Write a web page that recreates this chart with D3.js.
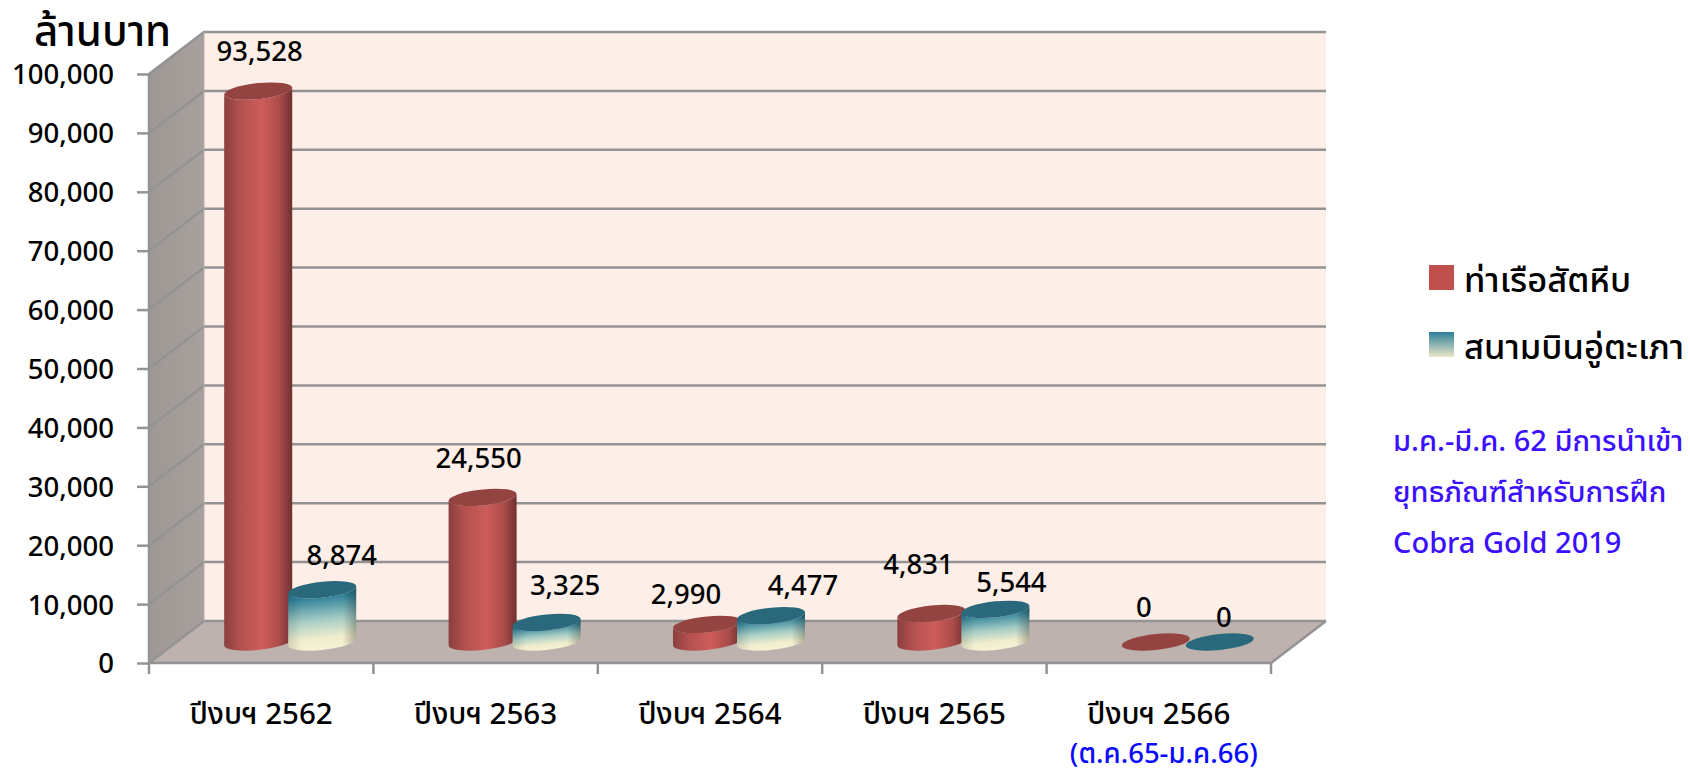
<!DOCTYPE html>
<html>
<head>
  <meta charset="utf-8">
  <style>
    html, body { margin: 0; background: #fff; }
    svg { display: block; }
    text { font-family: "Noto Sans", "Noto Sans Thai", "DejaVu Sans", sans-serif; font-weight: 500; fill: #000; }
  </style>
</head>
<body>
  <svg id="viz" width="1690" height="770"></svg>
  <script src="https://d3js.org/d3.v7.min.js"></script>
  <script>
    var categories = ["ปีงบฯ 2562", "ปีงบฯ 2563", "ปีงบฯ 2564", "ปีงบฯ 2565", "ปีงบฯ 2566"];
    var seriesNames = ["ท่าเรือสัตหีบ", "สนามบินอู่ตะเภา"];
    var portValues = [93528, 24550, 2990, 4831, 0];
    var airportValues = [8874, 3325, 4477, 5544, 0];
    var yTicks = [0, 10000, 20000, 30000, 40000, 50000, 60000, 70000, 80000, 90000, 100000];
    var noteLines = ["ม.ค.-มี.ค. 62 มีการนำเข้า", "ยุทธภัณฑ์สำหรับการฝึก", "Cobra Gold 2019"];

    // hand placed label nudges from the top of each bar, same as the original chart
    var portLabelShift = [[1.5, -30], [-4, -29], [-21, -20], [-13, -40], [-12, -25]];
    var airportLabelShift = [[19.5, -25], [18.5, -27], [32, -21], [16, -17], [4, -15]];

    var plotLeft = 149, plotRight = 1271, plotBottom = 663, plotTop = 74;
    var depthX = 55, depthY = -42;

    var svg = d3.select("#viz");
    var defs = svg.append("defs");

    function gradient(id, vertical, stops) {
      var g = defs.append("linearGradient").attr("id", id)
        .attr("x1", 0).attr("y1", 0)
        .attr("x2", vertical ? 0 : 1).attr("y2", vertical ? 1 : 0);
      stops.forEach(function(s) {
        g.append("stop").attr("offset", s[0]).attr("stop-color", s[1]).attr("stop-opacity", s[2] === undefined ? 1 : s[2]);
      });
    }
    gradient("redBody", false, [[0, "#8a3f3d"], [0.25, "#b55250"], [0.55, "#ce5c5a"], [0.82, "#a94c4a"], [1, "#6f302f"]]);
    gradient("blueBody", true, [[0, "#26788f"], [0.12, "#2f8199"], [0.5, "#a6cdc5"], [0.8, "#f0edcd"], [1, "#f6f3d6"]]);
    gradient("blueSide", false, [[0, "#000", 0.12], [0.2, "#000", 0], [0.8, "#000", 0], [1, "#000", 0.28]]);
    gradient("wallFill", false, [[0, "#9f9793"], [1, "#a8a09c"]]);
    gradient("legendBlue", true, [[0, "#2b8098"], [1, "#ebe6c8"]]);

    var x = d3.scaleBand().domain(categories).range([plotLeft, plotRight]);
    var inner = d3.scaleBand().domain([0, 1]).range([-64, 64]);
    var y = d3.scaleLinear().domain([0, 100000]).range([plotBottom, plotTop]);

    var gridColor = "#939393";

    // walls and floor
    svg.append("path")
      .attr("d", d3.line()([[plotLeft + depthX, y(100000) + depthY], [plotRight + depthX, y(100000) + depthY], [plotRight + depthX, plotBottom + depthY], [plotLeft + depthX, plotBottom + depthY]]))
      .attr("fill", "#fdeee7");
    svg.append("path")
      .attr("d", d3.line()([[plotLeft, y(100000)], [plotLeft + depthX, y(100000) + depthY], [plotLeft + depthX, plotBottom + depthY], [plotLeft, plotBottom]]))
      .attr("fill", "url(#wallFill)");
    svg.append("path")
      .attr("d", d3.line()([[plotLeft, plotBottom], [plotLeft + depthX, plotBottom + depthY], [plotRight + depthX, plotBottom + depthY], [plotRight, plotBottom]]))
      .attr("fill", "#bdb2ae");

    // gridlines on back wall and side wall
    var grid = svg.append("g").attr("fill", "none").attr("stroke", gridColor).attr("stroke-width", 2.5);
    yTicks.forEach(function(t) {
      grid.append("path")
        .attr("d", d3.line()([[plotLeft, y(t)], [plotLeft + depthX, y(t) + depthY], [plotRight + depthX, y(t) + depthY]]));
    });
    grid.append("path").attr("d", d3.line()([[plotLeft, y(100000)], [plotLeft, plotBottom], [plotRight, plotBottom], [plotRight + depthX, plotBottom + depthY]]));
    grid.append("path").attr("d", d3.line()([[plotLeft + depthX, y(100000) + depthY], [plotLeft + depthX, plotBottom + depthY]])).attr("stroke-width", 1).attr("stroke", "#b5aeaa");

    // axes
    var yAxis = svg.append("g")
      .attr("transform", "translate(" + plotLeft + ",0)")
      .call(d3.axisLeft(y).tickValues(yTicks).tickSize(12).tickPadding(23).tickFormat(d3.format(",")));
    var xAxis = svg.append("g")
      .attr("transform", "translate(0," + plotBottom + ")")
      .call(d3.axisBottom(x).tickSize(0).tickPadding(40));
    yAxis.select(".domain").remove();
    xAxis.select(".domain").remove();
    yAxis.selectAll("text").style("font-family", null).attr("font-size", 27.5);
    xAxis.selectAll("text").style("font-family", null).attr("font-size", 29.5);
    yAxis.selectAll("line").attr("stroke", gridColor).attr("stroke-width", 2.5);
    yAxis.selectAll("text").attr("dy", "0.36em");

    var catEdges = categories.map(function(c) { return x(c); }).concat([plotRight]);
    svg.append("g").selectAll("line").data(catEdges).enter().append("line")
      .attr("x1", function(d) { return d; }).attr("x2", function(d) { return d; })
      .attr("y1", plotBottom).attr("y2", plotBottom + 11)
      .attr("stroke", gridColor).attr("stroke-width", 2.5);

    // cylinders
    var rx = 34, ry = 8, skew = -0.1;
    var barH = d3.scaleLinear().domain([0, 100000]).range([0, plotBottom - plotTop]);

    function barX(cat, s) {
      return x(cat) + x.bandwidth() / 2 + depthX / 2 + 1.5 + inner(s) + inner.bandwidth() / 2;
    }

    function drawBar(cat, s, value) {
      var h = barH(value);
      var g = svg.append("g")
        .attr("transform", "matrix(1," + skew + ",0,1," + barX(cat, s) + "," + (plotBottom + depthY / 2) + ")");
      var body = "M" + (-rx) + "," + (-h) + "L" + (-rx) + ",0A" + rx + "," + ry + " 0 0 0 " + rx + ",0L" + rx + "," + (-h) +
        "A" + rx + "," + ry + " 0 0 1 " + (-rx) + "," + (-h) + "Z";
      if (h > 0) {
        g.append("path").attr("d", body).attr("fill", s == 0 ? "url(#redBody)" : "url(#blueBody)");
        if (s == 1) g.append("path").attr("d", body).attr("fill", "url(#blueSide)");
      }
      g.append("ellipse").attr("cx", 0).attr("cy", -h).attr("rx", rx).attr("ry", ry)
        .attr("fill", s == 0 ? "#934340" : "#2a687b");
    }

    categories.forEach(function(c, i) {
      drawBar(c, 0, portValues[i]);
      drawBar(c, 1, airportValues[i]);
    });

    // value labels
    var labels = svg.append("g").attr("font-size", 27.5).attr("text-anchor", "middle");
    function drawLabels(values, s, shift) {
      values.forEach(function(v, i) {
        labels.append("text")
          .attr("x", barX(categories[i], s) + shift[i][0])
          .attr("y", plotBottom + depthY / 2 - barH(v) + shift[i][1])
          .text(d3.format(",")(v));
      });
    }
    drawLabels(portValues, 0, portLabelShift);
    drawLabels(airportValues, 1, airportLabelShift);

    svg.append("text").attr("x", 34).attr("y", 46).attr("font-size", 42).text("ล้านบาท");

    svg.append("text").attr("x", x(categories[4]) + x.bandwidth() / 2 + 5).attr("y", 763)
      .attr("text-anchor", "middle").attr("font-size", 27.5)
      .style("fill", "#0a0aff").text("(ต.ค.65-ม.ค.66)");

    // legend
    var legendY = [265, 332];
    seriesNames.forEach(function(n, i) {
      svg.append("rect").attr("x", 1429).attr("y", legendY[i]).attr("width", 25).attr("height", 25)
        .attr("fill", i == 0 ? "#c0504d" : "url(#legendBlue)");
      svg.append("text").attr("x", 1464).attr("y", legendY[i] + 27).attr("font-size", 34.5).text(n);
    });

    // note
    noteLines.forEach(function(t, i) {
      svg.append("text").attr("x", 1393).attr("y", 451 + i * 51).attr("font-size", 29)
        .style("fill", "#3a10ff").text(t);
    });
  </script>
</body>
</html>
